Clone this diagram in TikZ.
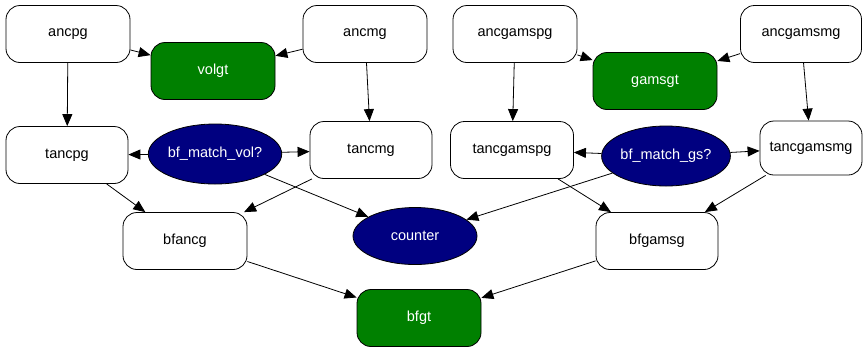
\documentclass[tikz,border=0pt]{standalone}
\usepackage{fontspec}
\setmainfont{Liberation Sans}
\usetikzlibrary{arrows.meta, shapes.geometric}

\definecolor{goalgreen}{RGB}{0,128,0}
\definecolor{testblue}{RGB}{0,0,128}

\begin{document}
\begin{tikzpicture}
[x=1pt, y=-1pt,
->/.style={line width=0.8pt, arrows={-{Triangle[length=12pt,width=10pt]}}},
   stepG/.style={shape=rectangle, rounded corners=14pt, draw, line width=0.8pt,
     fill=white, minimum width=124pt, minimum height=57pt, inner sep=0pt,
     font=\fontsize{14.5}{17}\selectfont},
   goalG/.style={stepG, fill=goalgreen, text=white},
   testG/.style={shape=ellipse, draw, line width=0.8pt, fill=testblue, text=white,
     minimum width=124pt, minimum height=60pt, inner sep=0pt,
     font=\fontsize{14.5}{17}\selectfont}]
\useasboundingbox (0,0) rectangle (866,349);
%% left half
\node[stepG] (ancpg) at (68, 34) {ancpg};
\node[goalG] (volgt) at (213, 71) {volgt};
\node[stepG] (ancmg) at (365, 34) {ancmg};
\node[stepG, minimum width=122pt] (tancpg) at (67, 155) {tancpg};
\node[testG] (matchvol) at (215, 154) {bf\_match\_vol?};
\node[stepG, minimum width=122pt] (tancmg) at (371, 150) {tancmg};
\node[stepG] (bfancg) at (185, 241) {bfancg};
%% right half
\node[stepG] (ancgamspg) at (515, 34) {ancgamspg};
\node[goalG] (gamsgt) at (655, 81) {gamsgt};
\node[stepG, minimum width=121pt] (ancgamsmg) at (801, 34) {ancgamsmg};
\node[stepG, minimum width=123pt] (tancgamspg) at (512, 150) {tancgamspg};
\node[testG, minimum width=122pt] (matchgs) at (666, 156) {bf\_match\_gs?};
\node[stepG, minimum width=102pt, minimum height=54pt] (tancgamsmg) at (811, 148) {tancgamsmg};
\node[stepG, minimum width=122pt] (bfgamsg) at (657, 241) {bfgamsg};
%% shared
\node[testG, minimum height=57pt] (counter) at (415, 236) {counter};
\node[goalG] (bfgt) at (419, 318) {bfgt};
\draw [->] (ancpg) to (volgt);
\draw [->] (ancmg) to (volgt);
\draw [->] (ancpg) to (tancpg);
\draw [->] (ancmg) to (tancmg);
\draw [->] (matchvol) to (tancpg);
\draw [->] (matchvol) to (tancmg);
\draw [->] (matchvol) to (counter);
\draw [->] (tancpg) to (bfancg);
\draw [->] (tancmg) to (bfancg);
\draw [->] (bfancg) to (bfgt);
\draw [->] (ancgamspg) to (gamsgt);
\draw [->] (ancgamsmg) to (gamsgt);
\draw [->] (ancgamspg) to (tancgamspg);
\draw [->] (ancgamsmg) to (tancgamsmg);
\draw [->] (matchgs) to (tancgamspg);
\draw [->] (matchgs) to (tancgamsmg);
\draw [->] (matchgs) to (counter);
\draw [->] (tancgamspg) to (bfgamsg);
\draw [->] (tancgamsmg) to (bfgamsg);
\draw [->] (bfgamsg) to (bfgt);
\end{tikzpicture}
\end{document}
